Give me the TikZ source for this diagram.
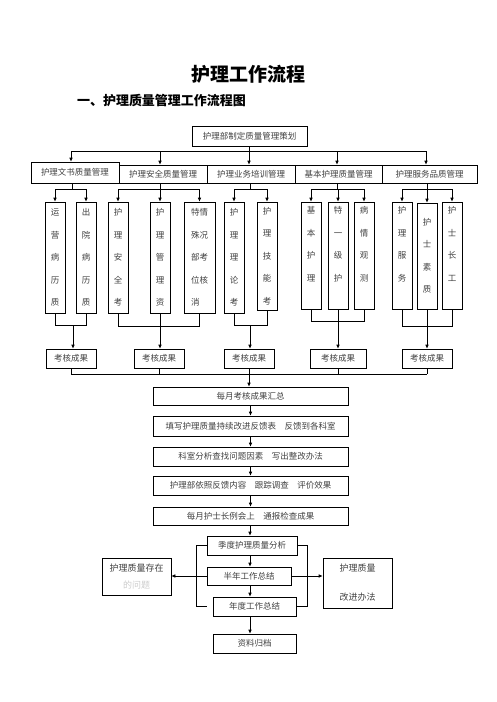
\documentclass[tikz,border=0pt]{standalone}
\usepackage{fontspec}
\setmainfont{Noto Sans CJK SC}
\usetikzlibrary{arrows.meta, positioning}

\begin{document}
\begin{tikzpicture}[x=1pt, y=-1pt, line width=0.6pt,
    every node/.style={font=\fontsize{8.5}{10}\selectfont, text=black!75},
    box/.style={draw=black, inner sep=0pt},
    col/.style={draw=black, inner sep=0pt, minimum width=20pt, minimum height=111pt, align=center, font=\fontsize{8.5}{22.5}\selectfont},
    res/.style={draw=black, inner sep=0pt, minimum width=50pt, minimum height=19pt},
    chain/.style={draw=black, inner sep=0pt, minimum width=195pt, minimum height=19pt},
    arr/.style={-{Latex[length=4pt,width=3.5pt]}}]
    \useasboundingbox (0,0) rectangle (496,702);

    % Titles
    \node[font=\fontsize{19}{22}\selectfont\bfseries, text=black] (title) at (248,74) {护理工作流程};
    \node[font=\fontsize{13}{16}\selectfont\bfseries, text=black] (subtitle) at (161.5,101) {一、护理质量管理工作流程图};

    % Nodes
    \node[box, minimum width=115pt, minimum height=20pt] (plan) at (249.5,136) {护理部制定质量管理策划};

    \node[box, minimum width=88pt, minimum height=21pt] (m1) at (75,172.5) {护理文书质量管理};
    \node[box, minimum width=88pt, minimum height=18pt] (m2) at (163,174) {护理安全质量管理};
    \node[box, minimum width=88pt, minimum height=18pt] (m3) at (251,174) {护理业务培训管理};
    \node[box, minimum width=87pt, minimum height=18pt] (m4) at (338.5,174) {基本护理质量管理};
    \node[box, minimum width=95pt, minimum height=18pt] (m5) at (429.5,174) {护理服务品质管理};

    \node[col] (c1) at (55,257.5) {运\\营\\病\\历\\质};
    \node[col] (c2) at (86,257.5) {出\\院\\病\\历\\质};
    \node[col] (c3) at (118,257.5) {护\\理\\安\\全\\考};
    \node[col] (c4) at (160,257.5) {护\\理\\管\\理\\资};
    \node[col, minimum width=31pt, align=left] (c5) at (199.5,257.5) {特情\\殊况\\部考\\位核\\消};
    \node[col] (c6) at (234,257.5) {护\\理\\理\\论\\考};
    \node[col, minimum height=108pt] (c7) at (267,256) {护\\理\\技\\能\\考};
    \node[col, minimum height=107pt] (c8) at (311,255.5) {基\\本\\护\\理\\\phantom{质}};
    \node[col, minimum height=107pt] (c9) at (338,255.5) {特\\一\\级\\护\\\phantom{理}};
    \node[col, minimum height=107pt] (c10) at (364,255.5) {病\\情\\观\\测\\\phantom{记}};
    \node[col, minimum height=107pt] (c11) at (402,255.5) {护\\理\\服\\务\\\phantom{质}};
    \node[col, minimum height=106pt] (c12) at (427,256) {护\\士\\素\\质};
    \node[col, minimum height=107pt] (c13) at (452,255.5) {护\\士\\长\\工\\\phantom{作}};

    \node[res] (r1) at (71,358.5) {考核成果};
    \node[res] (r2) at (159,358.5) {考核成果};
    \node[res] (r3) at (249,358.5) {考核成果};
    \node[res, minimum width=56pt] (r4) at (338,358.5) {考核成果};
    \node[res] (r5) at (427,358.5) {考核成果};

    \node[chain, minimum height=18pt] (s1) at (250.5,396) {每月考核成果汇总};
    \node[chain, minimum height=20pt] (s2) at (250.5,426) {填写护理质量持续改进反馈表\quad 反馈到各科室};
    \node[chain] (s3) at (250.5,456.5) {科室分析查找问题因素\quad 写出整改办法};
    \node[chain] (s4) at (250.5,485.5) {护理部依照反馈内容\quad 跟踪调查\quad 评价效果};
    \node[chain, minimum height=18pt] (s5) at (250.5,516) {每月护士长例会上\quad 通报检查成果};

    \node[box, minimum width=90pt, minimum height=19pt] (q1) at (252,545.5) {季度护理质量分析};
    \node[box, minimum width=84pt, minimum height=18pt] (q2) at (249,576) {半年工作总结};
    \node[box, minimum width=83pt, minimum height=19pt] (q3) at (254.5,606.5) {年度工作总结};
    \node[box, minimum width=83pt, minimum height=19pt] (q4) at (254.5,643.5) {资料归档};

    \node[box, minimum width=69pt, minimum height=37pt, align=center, font=\fontsize{9}{11}\selectfont] (p1) at (136.5,576.5) {护理质量存在\\[6pt]{\color{black!20}的问题}};
    \node[box, minimum width=69pt, minimum height=50pt, align=center, font=\fontsize{9}{11}\selectfont] (p2) at (357.5,583) {护理质量\\[18pt]改进办法};

    % Top bus
    \coordinate (b1) at (71,151);
    \coordinate (b2) at (160,151);
    \coordinate (b3) at (249,151);
    \coordinate (b4) at (337,151);
    \coordinate (b5) at (426,151);
    \draw (plan.south) -- (plan.south |- b1);
    \draw (b1) -- (b5);
    \foreach \i in {1,...,5}
        \draw[arr] (b\i) -- (b\i |- m\i.north);

    % Group buses
    \coordinate (g1) at (72,189);
    \coordinate (g2) at (160,189);
    \coordinate (g3) at (250,189);
    \coordinate (g4) at (337,189);
    \coordinate (g5) at (427,189);
    \foreach \i in {1,...,5}
        \draw (g\i |- m\i.south) -- (g\i);
    \draw (c1.north |- g1) -- (c2.north |- g1);
    \draw (c3.north |- g2) -- (c5.north |- g2);
    \draw (c6.north |- g3) -- (c7.north |- g3);
    \draw (c8.north |- g4) -- (c10.north |- g4);
    \draw (c11.north |- g5) -- (c13.north |- g5);
    \foreach \g/\c in {1/1,1/2,2/3,2/4,2/5,3/6,3/7,4/8,4/9,4/10,5/11,5/12,5/13}
        \draw[arr] (c\c.north |- g\g) -- (c\c.north);

    % Joins to results
    \coordinate (j1) at (73,325);
    \coordinate (j2) at (160,326);
    \coordinate (j3) at (250,325);
    \coordinate (j4) at (338,321);
    \coordinate (j5) at (427,326);
    \draw (c1.south) -- (c1.south |- j1) -- (c2.south |- j1) -- (c2.south);
    \draw[arr] (j1) -- (j1 |- r1.north);
    \draw (c3.south) -- (c3.south |- j2) -- (c5.south |- j2) -- (c5.south);
    \draw[arr] (c4.south) -- (c4.south |- r2.north);
    \draw (c6.south) -- (c6.south |- j3) -- (c7.south |- j3) -- (c7.south);
    \draw[arr] (j3) -- (j3 |- r3.north);
    \draw (c8.south) -- (c8.south |- j4) -- (c10.south |- j4) -- (c10.south);
    \draw[arr] (c9.south) -- (c9.south |- r4.north);
    \draw (c11.south) -- (c11.south |- j5) -- (c13.south |- j5) -- (c13.south);
    \draw[arr] (c12.south) -- (c12.south |- r5.north);

    % Results into the chain
    \coordinate (k) at (249,374);
    \foreach \i in {1,...,5}
        \draw (r\i.south) -- (r\i.south |- k);
    \draw (r1.south |- k) -- (r5.south |- k);
    \draw[arr] (k) -- (k |- s1.north);
    \draw[arr] (s1) -- (s2);
    \draw[arr] (s2) -- (s3);
    \draw[arr] (s3) -- (s4);
    \draw[arr] (s4) -- (s5);

    % Summaries
    \coordinate (ax) at (250,0);
    \draw[arr] (s5.south -| ax) -- (q1.north -| ax);
    \draw[arr] (q1.south -| ax) -- (q2.north -| ax);
    \draw[arr] (q2.south -| ax) -- (q3.north -| ax);
    \draw[arr] (q3.south -| ax) -- (q4.north -| ax);
    \draw (q1.west) -- ++(-10,0) |- ([xshift=-6pt]q3.west);
    \draw (q1.east) -- ++(10,0) |- (q3.east);
    \draw[arr] (q2.west) -- (q2.west -| p1.east);
    \draw[arr] (q2.east) -- (q2.east -| p2.west);
\end{tikzpicture}
\end{document}
